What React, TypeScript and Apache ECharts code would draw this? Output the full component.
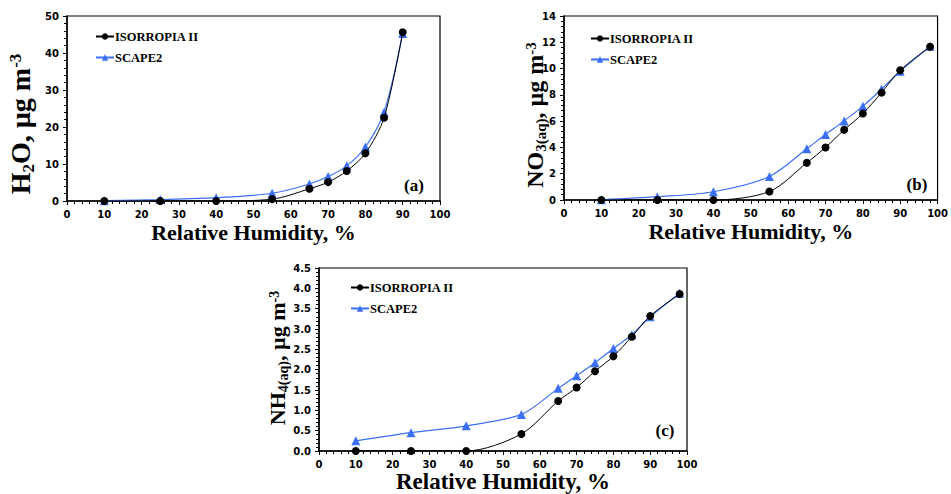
import React, { useEffect, useRef } from "react";
import * as echarts from "echarts";

const rhA = [10, 25, 40, 55, 65, 70, 75, 80, 85, 90];
const h2oIso = [0, 0, 0, 0.5, 3.3, 5.1, 8.1, 12.9, 22.5, 45.6];
const h2oScape = [0.1, 0.4, 0.9, 2.1, 4.6, 6.6, 9.5, 14.6, 24, 45.3];

const rhBC = [10, 25, 40, 55, 65, 70, 75, 80, 85, 90, 98];
const no3Iso = [0, 0, 0, 0.65, 2.83, 4.0, 5.34, 6.58, 8.17, 9.87, 11.66];
const no3Scape = [0.02, 0.25, 0.63, 1.79, 3.9, 4.98, 6.02, 7.14, 8.43, 9.8, 11.7];
const nh4Iso = [0, 0, 0, 0.42, 1.23, 1.56, 1.96, 2.33, 2.81, 3.32, 3.86];
const nh4Scape = [0.25, 0.45, 0.62, 0.9, 1.54, 1.85, 2.17, 2.52, 2.86, 3.3, 3.88];

const seriesNames = ["ISORROPIA II", "SCAPE2"];
const xTitle = "Relative Humidity, %";
const panelLetters = ["(a)", "(b)", "(c)"];

const BLUE = "#3b6ff5";
const SERIF = "'Liberation Serif', 'Times New Roman', serif";
const SANS = "'DejaVu Sans', sans-serif";

const pairs = (xs: number[], ys: number[]) => xs.map((x, i) => [x, ys[i]]);

const makeRich = (main: number, small: number) => ({
  m: { fontFamily: SERIF, fontWeight: "bold", fontSize: main, color: "#000", lineHeight: Math.round(main * 1.45), verticalAlign: "middle" },
  s: {
    fontFamily: SERIF, fontWeight: "bold", fontSize: small, color: "#000", verticalAlign: "bottom",
    padding: [0, 0, Math.round(main * 0.15), 0],
  },
  p: {
    fontFamily: SERIF, fontWeight: "bold", fontSize: small, color: "#000", verticalAlign: "top",
    padding: [Math.round(main * 0.25), 0, 0, 0],
  },
});

export default function App() {
  const ref = useRef<HTMLDivElement>(null);
  useEffect(() => {
    if (!ref.current) return;
    const chart = echarts.init(ref.current, undefined, { renderer: "svg" });

    const grids = [
      { left: 67, top: 16, width: 373, height: 185 },
      { left: 564, top: 16, width: 375, height: 184 },
      { left: 319, top: 268, width: 368, height: 183 },
    ];
    const yRanges = [
      { max: 50, interval: 10, dec: 0 },
      { max: 14, interval: 2, dec: 0 },
      { max: 4.5, interval: 0.5, dec: 1 },
    ];
    const nameSizes = [22, 22, 23];
    const nameGaps = [20, 20, 17];

    const xAxes = grids.map((_, i) => ({
      type: "value",
      gridIndex: i,
      min: 0,
      max: 100,
      interval: 10,
      name: xTitle,
      nameLocation: "middle",
      nameGap: nameGaps[i],
      nameTextStyle: { fontFamily: SERIF, fontWeight: "bold", fontSize: nameSizes[i], color: "#000" },
      axisLine: { show: true, onZero: false, lineStyle: { color: "#000", width: 1.5 } },
      axisTick: { show: true, inside: false, length: 4, lineStyle: { color: "#000", width: 1 } },
      minorTick: { show: true, splitNumber: 5, length: 3, lineStyle: { color: "#000", width: 1 } },
      splitLine: { show: false },
      axisLabel: { fontFamily: SANS, fontWeight: "bold", fontSize: 10, color: "#000", margin: 8 },
    }));

    const yAxes = grids.map((_, i) => ({
      type: "value",
      gridIndex: i,
      min: 0,
      max: yRanges[i].max,
      interval: yRanges[i].interval,
      axisLine: { show: true, lineStyle: { color: "#000", width: 1.5 } },
      axisTick: { show: true, inside: false, length: 4, lineStyle: { color: "#000", width: 1 } },
      minorTick: { show: true, splitNumber: 5, length: 3, lineStyle: { color: "#000", width: 1 } },
      splitLine: { show: false },
      axisLabel: {
        fontFamily: SANS,
        fontWeight: "bold",
        fontSize: 10,
        color: "#000",
        margin: 8,
        formatter: (v: number) => v.toFixed(yRanges[i].dec),
      },
    }));

    const data = [
      [pairs(rhA, h2oIso), pairs(rhA, h2oScape)],
      [pairs(rhBC, no3Iso), pairs(rhBC, no3Scape)],
      [pairs(rhBC, nh4Iso), pairs(rhBC, nh4Scape)],
    ];

    const series: any[] = [];
    data.forEach((d, i) => {
      series.push({
        name: seriesNames[0],
        type: "line",
        xAxisIndex: i,
        yAxisIndex: i,
        data: d[0],
        smooth: 0.3,
        symbol: "circle",
        symbolSize: 8,
        itemStyle: { color: "#000" },
        lineStyle: { color: "#000", width: 1 },
        z: 3,
      });
      series.push({
        name: seriesNames[1],
        type: "line",
        xAxisIndex: i,
        yAxisIndex: i,
        data: d[1],
        smooth: 0.3,
        symbol: "triangle",
        symbolSize: 9,
        itemStyle: { color: BLUE },
        lineStyle: { color: BLUE, width: 1.2 },
        z: 2,
      });
    });

    const legendPos = [
      { left: 95, top: 30 },
      { left: 590, top: 32 },
      { left: 350, top: 281 },
    ];
    const legends = legendPos.map((p) => ({
      data: seriesNames,
      orient: "vertical",
      left: p.left,
      top: p.top,
      itemWidth: 18,
      itemHeight: 8,
      itemGap: 8,
      padding: 0,
      selectedMode: false,
      textStyle: { fontFamily: SERIF, fontWeight: "bold", fontSize: 12.5, color: "#000", padding: [0, 0, 0, -4] },
    }));

    const yTitles = [
      { text: "{m|H}{s|2}{m|O, µg m}{p|-3}", x: 20, y: 124, main: 28, small: 17 },
      { text: "{m|NO}{s|3(aq)}{m|, µg m}{p|-3}", x: 535, y: 115, main: 24, small: 15 },
      { text: "{m|NH}{s|4(aq)}{m|, µg m}{p|-3}", x: 277, y: 358, main: 22, small: 14 },
    ];
    const letterPos = [
      { x: 414, y: 185 },
      { x: 917, y: 184 },
      { x: 665, y: 430 },
    ];

    const graphic: any[] = [];
    yTitles.forEach((t) => {
      graphic.push({
        type: "text",
        x: t.x,
        y: t.y,
        rotation: Math.PI / 2,
        style: { text: t.text, rich: makeRich(t.main, t.small), align: "center", verticalAlign: "middle" },
      });
    });
    letterPos.forEach((p, i) => {
      graphic.push({
        type: "text",
        x: p.x,
        y: p.y,
        style: {
          text: panelLetters[i],
          fontFamily: SERIF,
          fontWeight: "bold",
          fontSize: 17,
          fill: "#000",
          align: "center",
          verticalAlign: "middle",
        },
      });
    });

    chart.setOption({
      animation: false,
      backgroundColor: "#fff",
      grid: grids.map((g) => ({ ...g, show: true, borderColor: "#000", borderWidth: 1.2, backgroundColor: "transparent" })),
      xAxis: xAxes,
      yAxis: yAxes,
      legend: legends,
      series,
      graphic,
    });
    return () => chart.dispose();
  }, []);
  return <div ref={ref} style={{ position: "absolute", left: 0, top: 0, width: 951, height: 494 }} />;
}
